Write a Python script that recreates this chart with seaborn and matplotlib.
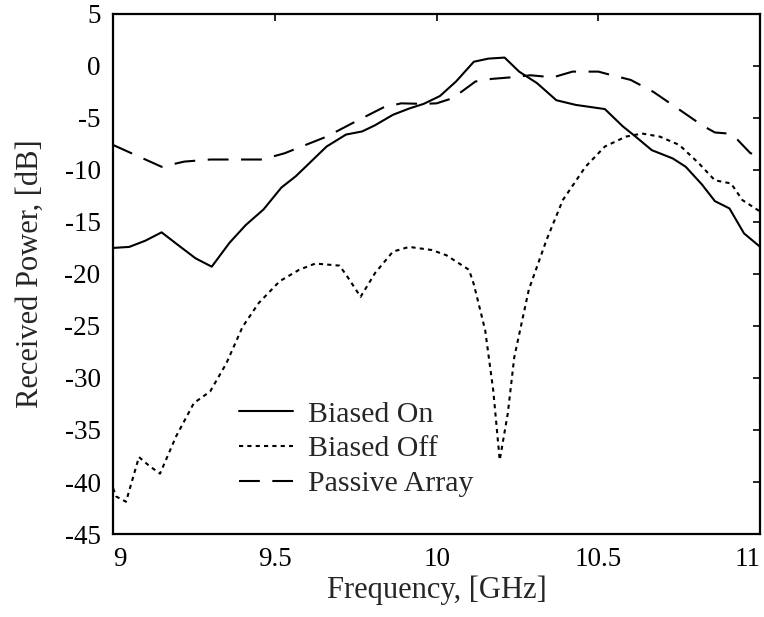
import numpy as np
import pandas as pd
import matplotlib
matplotlib.use("Agg")
import matplotlib.pyplot as plt
import seaborn as sns

# ---- data ----
f_on = [9.0, 9.05, 9.10, 9.15, 9.20, 9.255, 9.305, 9.36, 9.41, 9.465, 9.52, 9.565, 9.605,
        9.66, 9.72, 9.77, 9.81, 9.865, 9.915, 9.96, 10.01, 10.06, 10.115, 10.16, 10.21,
        10.255, 10.31, 10.37, 10.43, 10.52, 10.575, 10.615, 10.665, 10.73, 10.77, 10.82,
        10.86, 10.905, 10.95, 11.0]
p_on = [-17.5, -17.4, -16.8, -16.0, -17.2, -18.5, -19.3, -17.0, -15.3, -13.8, -11.7, -10.6,
        -9.4, -7.75, -6.6, -6.3, -5.7, -4.7, -4.1, -3.65, -2.9, -1.5, 0.4, 0.7, 0.8, -0.55,
        -1.65, -3.3, -3.75, -4.15, -5.8, -6.8, -8.1, -8.9, -9.7, -11.4, -13.0, -13.7, -16.1,
        -17.4]

f_off = [9.0, 9.01, 9.04, 9.08, 9.11, 9.145, 9.195, 9.25, 9.30, 9.35, 9.40, 9.45, 9.515,
         9.575, 9.625, 9.70, 9.725, 9.765, 9.81, 9.865, 9.915, 9.985, 10.03, 10.10, 10.115,
         10.15, 10.175, 10.195, 10.22, 10.24, 10.285, 10.34, 10.39, 10.46, 10.52, 10.585,
         10.635, 10.69, 10.75, 10.81, 10.86, 10.91, 10.945, 11.0]
p_off = [-40.6, -41.4, -41.9, -37.6, -38.4, -39.2, -35.6, -32.4, -31.3, -28.6, -25.1, -22.8,
         -20.7, -19.6, -19.0, -19.2, -20.3, -22.2, -19.9, -17.85, -17.4, -17.7, -18.2, -19.6,
         -21.0, -25.4, -31.2, -37.9, -33.4, -28.0, -21.5, -16.7, -12.9, -9.7, -7.75, -6.8,
         -6.5, -6.8, -7.6, -9.35, -11.0, -11.3, -12.9, -14.0]

f_pa = [9.0, 9.15, 9.22, 9.30, 9.46, 9.53, 9.66, 9.74, 9.835, 9.89, 9.96, 10.0, 10.05, 10.12,
        10.17, 10.23, 10.29, 10.36, 10.42, 10.50, 10.53, 10.60, 10.67, 10.75, 10.82, 10.86,
        10.90, 10.93, 10.97, 11.0]
p_pa = [-7.6, -9.7, -9.2, -9.0, -9.0, -8.4, -6.8, -5.5, -4.0, -3.6, -3.65, -3.6, -3.1, -1.5,
        -1.25, -1.1, -0.9, -1.1, -0.55, -0.55, -0.8, -1.35, -2.5, -4.2, -5.7, -6.4, -6.5,
        -7.1, -8.4, -8.5]

series_names = ["Biased On", "Biased Off", "Passive Array"]
x_ticks = [9, 9.5, 10, 10.5, 11]
x_ticklabels = ["9", "9.5", "10", "10.5", "11"]
y_ticks = [-45, -40, -35, -30, -25, -20, -15, -10, -5, 0, 5]
y_ticklabels = ["-45", "-40", "-35", "-30", "-25", "-20", "-15", "-10", "-5", "0", "5"]

df = pd.concat([
    pd.DataFrame({"Frequency": f_on, "Power": p_on, "Series": series_names[0]}),
    pd.DataFrame({"Frequency": f_off, "Power": p_off, "Series": series_names[1]}),
    pd.DataFrame({"Frequency": f_pa, "Power": p_pa, "Series": series_names[2]}),
], ignore_index=True)

sns.set_style("white")
plt.rcParams["font.family"] = ["Liberation Serif", "DejaVu Serif"]
plt.rcParams["axes.unicode_minus"] = False

fig = plt.figure(figsize=(7.64, 6.17), dpi=100)
ax = fig.add_axes([0.148, 0.1345, 0.847, 0.843])

dash_map = {"Biased On": "", "Biased Off": (2, 2), "Passive Array": (10, 6)}
sns.lineplot(data=df, x="Frequency", y="Power", style="Series", dashes=dash_map,
             color="black", linewidth=1.5, estimator=None, sort=True, ax=ax,
             style_order=series_names)

ax.set_xlim(9, 11)
ax.set_ylim(-45, 5)
ax.set_xticks(x_ticks)
ax.set_xticklabels(x_ticklabels)
ax.set_yticks(y_ticks)
ax.set_yticklabels(y_ticklabels)
xt = ax.get_xticklabels()
xt[0].set_ha("left")
xt[-1].set_ha("right")
ax.set_xlabel("Frequency, [GHz]", fontsize=22)
ax.set_ylabel("Received Power, [dB]", fontsize=22)
ax.xaxis.set_label_coords(0.5, -0.08)
ax.yaxis.set_label_coords(-0.106, 0.5)
ax.tick_params(direction="in", length=5, width=1.2, top=True, right=True,
               labelsize=19.5, pad=9, colors="black")
for s in ax.spines.values():
    s.set_linewidth(1.6)
    s.set_color("black")

leg = ax.legend(loc="upper left", bbox_to_anchor=(0.176, 0.279), frameon=False,
                fontsize=21.5, handlelength=1.8, handletextpad=0.5, labelspacing=0.26,
                borderaxespad=0)
for line in leg.get_lines():
    line.set_linewidth(1.5)

fig.savefig("out.png", dpi=100)
